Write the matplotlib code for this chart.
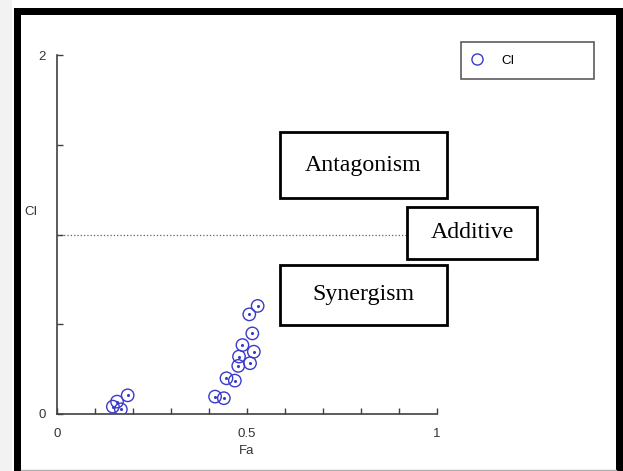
import matplotlib
matplotlib.use('Agg')
import matplotlib.pyplot as plt
from matplotlib.patches import Rectangle
from matplotlib.lines import Line2D

# Fa / CI values
fa = [0.147, 0.158, 0.168, 0.186,
      0.416, 0.439, 0.446, 0.468, 0.477, 0.479, 0.488,
      0.508, 0.518, 0.514, 0.506, 0.528]
ci = [0.041, 0.069, 0.026, 0.104,
      0.097, 0.088, 0.199, 0.186, 0.268, 0.320, 0.384,
      0.283, 0.347, 0.449, 0.555, 0.602]

xTicks = [i / 10 for i in range(11)]
xTickLabels = ['0', '', '', '', '', '0.5', '', '', '', '', '1']
yTicks = [0, 0.5, 1, 1.5, 2]
yTickLabels = ['0', '', '', '', '2']

# (label, x0, x1, y0, y1) in data units
regions = [
    ('Antagonism', 0.587, 1.026, 1.203, 1.571),
    ('Additive', 0.921, 1.263, 0.864, 1.153),
    ('Synergism', 0.587, 1.026, 0.496, 0.830),
]

axisColor = '#404040'
markColor = '#3a3ac8'
W, H = 623, 471

fig = plt.figure(figsize=(W / 100, H / 100), dpi=100)
fig.patch.set_facecolor('white')

# outer screenshot frame
fig.add_artist(Rectangle((0, 0), 12 / W, 1, transform=fig.transFigure,
                         facecolor='#f2f2f2', edgecolor='none'))
fig.add_artist(Rectangle((14 / W, 0), 7 / W, 1 - 8 / H, transform=fig.transFigure,
                         facecolor='black', edgecolor='none'))
fig.add_artist(Rectangle((14 / W, 1 - 15 / H), 1, 7 / H, transform=fig.transFigure,
                         facecolor='black', edgecolor='none'))
fig.add_artist(Rectangle((616 / W, 0), 7 / W, 1 - 8 / H, transform=fig.transFigure,
                         facecolor='black', edgecolor='none'))
fig.add_artist(Line2D([21 / W, 616 / W], [1.5 / H, 1.5 / H], transform=fig.transFigure,
                      color='#b0b0b0', lw=1))

ax = fig.add_axes([57 / W, 1 - 414 / H, 380 / W, 359 / H])
ax.set_xlim(0, 1)
ax.set_ylim(0, 2)

# additive reference line
ax.plot([0, 1], [1, 1], color='#606060', linestyle=':', linewidth=0.9, zorder=1)

ax.scatter(fa, ci, s=80, facecolors='none', edgecolors=markColor,
           linewidths=1.0, zorder=3)
ax.scatter(fa, ci, s=1.5, color=markColor, zorder=3)

for label, x0, x1, y0, y1 in regions:
    ax.add_patch(Rectangle((x0, y0), x1 - x0, y1 - y0, facecolor='white',
                           edgecolor='black', linewidth=2, clip_on=False, zorder=4))
    ax.text((x0 + x1) / 2, (y0 + y1) / 2, label, ha='center', va='center',
            fontsize=17.2, family='Liberation Serif', zorder=5, clip_on=False)

for s in ['top', 'right']:
    ax.spines[s].set_visible(False)
for s in ['left', 'bottom']:
    ax.spines[s].set_color(axisColor)
    ax.spines[s].set_linewidth(1.2)

ax.set_xticks(xTicks)
ax.set_xticklabels(xTickLabels)
ax.set_yticks(yTicks)
ax.set_yticklabels(yTickLabels)
ax.tick_params(direction='in', length=4, width=1, color=axisColor,
               labelsize=9.5, labelcolor='#333333', pad=8)
ax.tick_params(axis='x', pad=10)
for t in ax.get_xticklabels() + ax.get_yticklabels():
    t.set_family('Liberation Sans')

ax.set_xlabel('Fa', fontsize=9.5, color='#333333', family='Liberation Sans', labelpad=4)
ax.set_ylabel('CI', fontsize=9.5, color='#333333', family='Liberation Sans',
              rotation=0, va='center', ha='center')
ax.yaxis.set_label_coords(-0.068, 0.563)

# legend box
legend = ax.legend([Line2D([], [], marker='o', linestyle='none', markersize=8,
                           markerfacecolor='none', markeredgecolor=markColor)],
                   ['CI'], loc='upper left', bbox_to_anchor=(1.063, 1.036, 0.35, 0),
                   mode='expand', borderaxespad=0, frameon=True, fancybox=False,
                   borderpad=0.95, handlelength=0.6, handletextpad=1.5,
                   prop={'family': 'Liberation Sans', 'size': 9.5})
legend.get_frame().set_edgecolor('#333333')
legend.get_frame().set_linewidth(1.2)

fig.savefig('out.png', dpi=100)
